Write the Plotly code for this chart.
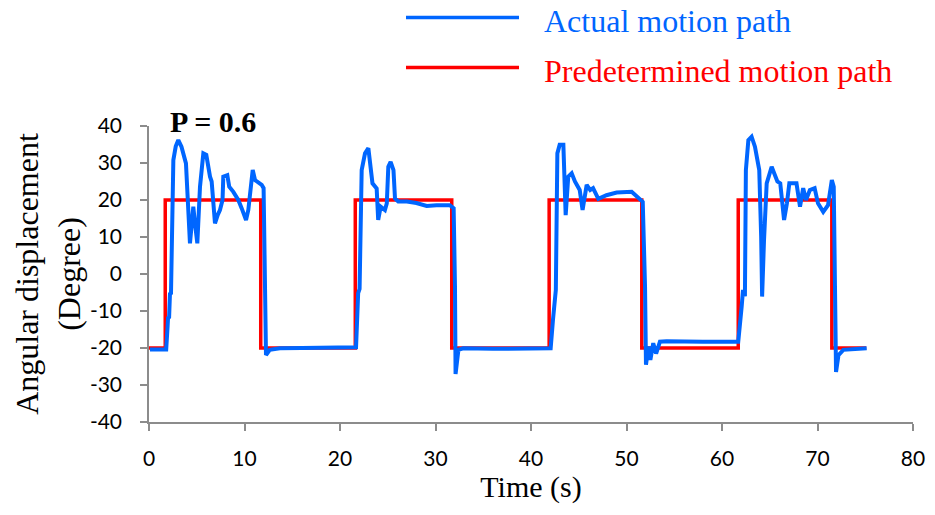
import plotly.graph_objects as go

# Predetermined (step) path
step_t = [0, 1.7, 11.7, 21.6, 31.7, 41.9, 51.6, 61.7, 71.5, 75.1]
step_y = [-20, 20, -20, 20, -20, 20, -20, 20, -20, -20]

# Actual motion path
act_t = [0.1, 1.0, 1.8, 1.95, 2.0, 2.1, 2.2, 2.3, 2.4, 2.55, 2.8, 3.07, 3.4, 3.87, 4.29, 4.45, 4.64, 4.8,
         5.06, 5.34, 5.69, 6.0, 6.2, 6.39, 6.56, 6.91, 7.2, 7.43, 7.7, 7.78, 8.2, 8.4, 8.83, 9.35, 9.7,
         10.16, 10.4, 10.86, 11.1, 11.8, 12.0, 12.15, 12.25, 12.65, 13.7, 16.0, 19.0, 21.68,
         21.9, 22.05, 22.27, 22.62, 22.97, 23.2, 23.4, 23.84, 24.0, 24.26, 24.7, 24.9, 25.06, 25.3, 25.6,
         25.76, 26.1, 27.0, 28.0, 29.08, 30.1, 31.5, 31.9, 32.04, 32.1, 32.4, 32.9, 36.0, 40.0, 42.06,
         42.3, 42.6, 42.76, 43.0, 43.39, 43.5, 43.63, 43.9, 44.26, 44.6, 45.1, 45.4, 45.83, 46.2, 46.5,
         47.05, 47.9, 48.97, 50.54, 51.06, 51.7, 51.94, 52.04, 52.3, 52.5, 52.8, 53.1, 53.5, 54.2, 58.0, 61.7,
         62.06, 62.2, 62.4, 62.5, 62.76, 63.1, 63.45, 63.9, 64.1, 64.2, 64.4, 64.68, 65.2, 65.55, 65.8, 66.1,
         66.5, 66.8, 67.05, 67.5, 67.8, 68.17, 68.5, 68.8, 69.2, 69.7, 70.05, 70.6, 71.1, 71.5, 71.7, 71.83,
         71.94, 72.2, 72.7, 75.15]
act_y = [-20.4, -20.3, -20.4, -14, -11.5, -12, -5, -5.5, 5.7, 30.8, 34.5, 36.2, 34.4, 29.9, 8.3, 12, 18.2, 14,
         8.3, 23.6, 32.6, 32.2, 29, 26.3, 25, 13.7, 16, 17.3, 20, 26.3, 26.7, 23.6, 22.2, 20, 17.8,
         14.6, 17.3, 28.1, 25.4, 24.1, 23.2, -12.4, -21.9, -20.5, -20.1, -20.0, -19.8, -19.8,
         -5.2, -4, 28.1, 32.6, 34, 28.1, 24.5, 23.1, 14.6, 18.2, 17.3, 19.1, 29, 30.3, 28.1,
         20.4, 19.6, 19.6, 19.2, 18.4, 18.6, 18.6, 17.8, -3.4, -27, -20.5, -20.1, -20.2, -20.1, -20.1,
         -12.4, -4.3, 32.6, 34.9, 34.9, 23.6, 15.9, 26.3, 27.2, 25, 22.7, 17.3, 24.1, 22.7, 23.2,
         20.3, 21.3, 22, 22.2, 21, 19.5, -3.4, -24.5, -19.6, -23.2, -18.7, -21.5, -18.3, -18.2, -18.3, -18.3,
         -8.8, -4.3, -6, 28.1, 36.2, 37.1, 34.4, 28.1, 10.1, -6.1, 9.2, 24.5, 29, 26.7, 25, 24.5,
         14.6, 19.1, 24.5, 24.5, 24.5, 18.2, 23.2, 20, 22.7, 23.2, 19.1, 16.8, 18.6, 25.4, 23.6, -3.4,
         -26.5, -21.9, -20.5, -20.1]

x_ticks = [0, 10, 20, 30, 40, 50, 60, 70, 80]
y_ticks = [-40, -30, -20, -10, 0, 10, 20, 30, 40]
x_ticktext = [str(v) for v in x_ticks]
y_ticktext = [str(v) for v in y_ticks]  # plain hyphen minus, as in the original

BLUE = "#0066FF"
RED = "#FF0000"
SERIF = "Liberation Serif, Times New Roman, serif"
TICKFONT = "Lato, Open Sans, sans-serif"

fig = go.Figure()
fig.add_trace(go.Scatter(x=step_t, y=step_y, mode="lines", line=dict(color=RED, width=3.5, shape="hv"),
                         name="Predetermined motion path", showlegend=False))
fig.add_trace(go.Scatter(x=act_t, y=act_y, mode="lines", line=dict(color=BLUE, width=4),
                         name="Actual motion path", showlegend=False))

W, H = 935, 515
L, R, T, B = 149, 22, 126, 93
pw, ph = W - L - R, H - T - B

def px(xp):
    return (xp - L) / pw

def py(yp):
    return (H - B - yp) / ph

# custom legend
for yline, col, label in [(17.5, BLUE, "Actual motion path"), (67.5, RED, "Predetermined motion path")]:
    fig.add_shape(type="line", xref="paper", yref="paper", x0=px(406), x1=px(519), y0=py(yline), y1=py(yline),
                  line=dict(color=col, width=3.5))
    fig.add_annotation(xref="paper", yref="paper", x=px(542), y=py(yline + 3), xanchor="left", yanchor="middle",
                       text=label, showarrow=False, font=dict(family=SERIF, size=32, color=col))

fig.add_annotation(xref="paper", yref="paper", x=px(213), y=py(121), xanchor="center", yanchor="middle",
                   text="<b>P = 0.6</b>", showarrow=False, font=dict(family=SERIF, size=30, color="black"))

axis_common = dict(showgrid=False, zeroline=False, showline=True, linecolor="#8C8C8C", linewidth=1.5,
                   ticks="outside", ticklen=7, tickcolor="#8C8C8C", tickwidth=1.5,
                   tickfont=dict(family=TICKFONT, size=21, color="black"))

fig.update_layout(
    width=W, height=H, margin=dict(l=L, r=R, t=T, b=B, autoexpand=False),
    plot_bgcolor="white", paper_bgcolor="white", showlegend=False,
    xaxis=dict(range=[0, 80], tickvals=x_ticks, ticktext=x_ticktext, ticklabelstandoff=10,
               title=dict(text="Time (s)", font=dict(family=SERIF, size=30, color="black"), standoff=0),
               **axis_common),
    yaxis=dict(range=[-40, 40], tickvals=y_ticks, ticktext=y_ticktext, ticklabelstandoff=14,
               title=dict(text="Angular displacement<br>(Degree)", font=dict(family=SERIF, size=32, color="black"),
                          standoff=0),
               **axis_common),
)

fig.write_html("out.html")
